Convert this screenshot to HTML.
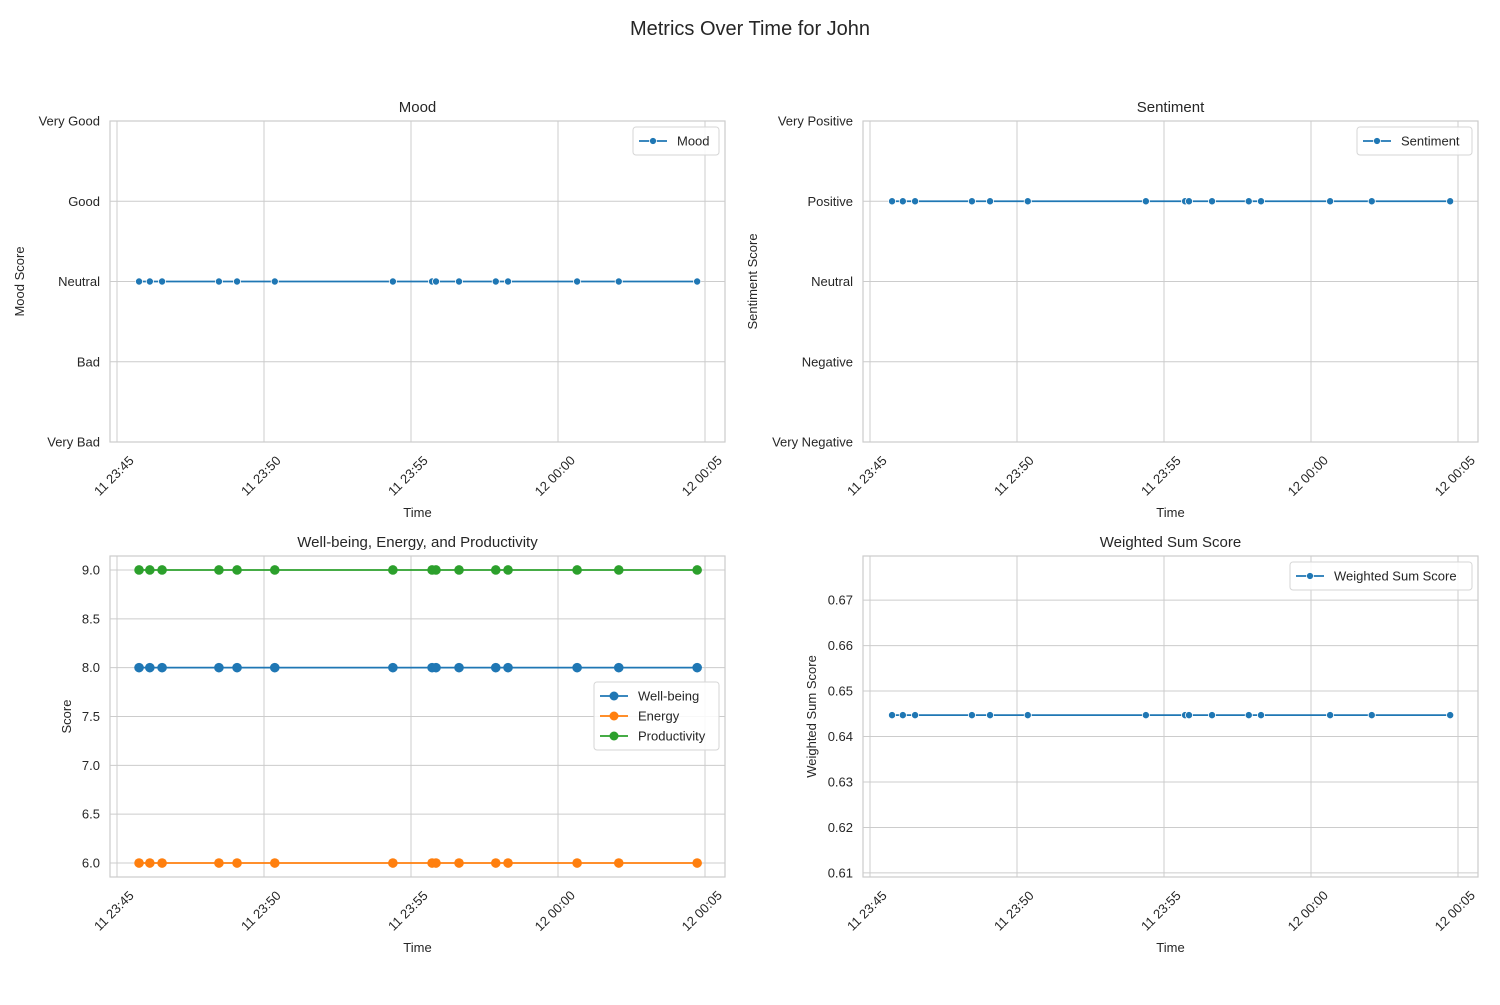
<!DOCTYPE html>
<html><head><meta charset="utf-8"><style>
body{margin:0;background:#fff;font-family:"Liberation Sans",Arial,sans-serif;}
svg text{font-family:"Liberation Sans",Arial,sans-serif;fill:#262626;}
</style></head><body>
<svg id="fig" width="1500" height="1000" xmlns="http://www.w3.org/2000/svg">
<text x="750" y="35" font-size="20" text-anchor="middle">Metrics Over Time for John</text>
</svg>
<script>
// seconds after 11 23:45:00
const times = [45,67,92,208,245,322,563,643,651,698,773,798,939,1024,1184];
const moodValues = [2,2,2,2,2,2,2,2,2,2,2,2,2,2,2];
const sentimentValues = [4,4,4,4,4,4,4,4,4,4,4,4,4,4,4];
const wellbeingValues = [8,8,8,8,8,8,8,8,8,8,8,8,8,8,8];
const energyValues = [6,6,6,6,6,6,6,6,6,6,6,6,6,6,6];
const productivityValues = [9,9,9,9,9,9,9,9,9,9,9,9,9,9,9];
const weightedValues = [0.6447,0.6447,0.6447,0.6447,0.6447,0.6447,0.6447,0.6447,0.6447,0.6447,0.6447,0.6447,0.6447,0.6447,0.6447];
const xTickSeconds = [0,300,600,900,1200];
const xTickLabels = ["11 23:45","11 23:50","11 23:55","12 00:00","12 00:05"];
const moodLabels = ["Very Bad","Bad","Neutral","Good","Very Good"];
const sentimentLabels = ["Very Negative","Negative","Neutral","Positive","Very Positive"];
const scoreTicks = [6.0,6.5,7.0,7.5,8.0,8.5,9.0];
const weightedTicks = [0.61,0.62,0.63,0.64,0.65,0.66,0.67];

const svg=document.getElementById('fig');
const NS='http://www.w3.org/2000/svg';
function mk(tag,attrs,parent){const e=document.createElementNS(NS,tag);for(const k in attrs)e.setAttribute(k,attrs[k]);(parent||svg).appendChild(e);return e;}

function panel(o){
  const g=mk('g',{});
  
  
  const L=o.x0,R=o.x0+615,T=o.y0,B=o.y0+321;
  const xs=s=>L+7+s*147/300;
  const ys=v=>B-(v-o.ymin)/(o.ymax-o.ymin)*(B-T);
  xTickSeconds.forEach((s,i)=>{
    const l=mk('line',{x1:xs(s),x2:xs(s),y1:T,y2:B,stroke:'#cccccc','stroke-width':1},g);
    
    
    const t=mk('text',{x:0,y:0,'font-size':13,'text-anchor':'middle',transform:`translate(${xs(s)},${B+37}) rotate(-45)`},g);
    
    
    t.textContent=xTickLabels[i];
  });
  o.yticks.forEach((v,i)=>{
    const l=mk('line',{x1:L,x2:R,y1:ys(v),y2:ys(v),stroke:'#cccccc','stroke-width':1},g);
    
    
    const t=mk('text',{x:L-10,y:ys(v)+4.5,'font-size':13,'text-anchor':'end'},g);
    
    
    t.textContent=o.ylabels[i];
  });
  const fr=mk('rect',{x:L,y:T,width:615,height:321,fill:'none',stroke:'#cccccc','stroke-width':1.2},g);
  
  
  const tt=mk('text',{x:(L+R)/2,y:T-9,'font-size':15,'text-anchor':'middle'},g);
  
  
  tt.textContent=o.title;
  const xl=mk('text',{x:(L+R)/2,y:B+75,'font-size':13,'text-anchor':'middle'},g);
  
  
  xl.textContent='Time';
  const yl=mk('text',{x:0,y:0,'font-size':13,'text-anchor':'middle',transform:`translate(${o.ylx},${(T+B)/2}) rotate(-90)`},g);
  
  
  yl.textContent=o.ytitle;
  o.series.forEach(se=>{
    const pts=times.map((s,i)=>xs(s)+','+ys(se.vals[i])).join(' ');
    const pl=mk('polyline',{points:pts,fill:'none',stroke:se.color,'stroke-width':1.8},g);
    
    
    times.forEach((s,i)=>{
      const c=mk('circle',{cx:xs(s),cy:ys(se.vals[i]),r:o.big?4.8:3.6,fill:se.color,stroke:o.big?'none':'#fff','stroke-width':0.8},g);
      
      
    });
  });
  const lw=o.legW,lh=o.series.length*20+8,lx=R-6-lw,ly=T+6;
  const lg=mk('g',{},g);
  
  
  const lr=mk('rect',{x:lx,y:ly+o.legDy,width:lw,height:lh,rx:3,fill:'#fff','fill-opacity':0.85,stroke:'#d6d6d6'},lg);
  
  
  o.series.forEach((se,i)=>{
    const yy=ly+o.legDy+14+i*20;
    const ll=mk('line',{x1:lx+6,x2:lx+34,y1:yy,y2:yy,stroke:se.color,'stroke-width':1.8},lg);
    
    
    const lc=mk('circle',{cx:lx+20,cy:yy,r:o.big?4.5:3.5,fill:se.color,stroke:o.big?'none':'#fff','stroke-width':0.8},lg);
    
    
    const lt=mk('text',{x:lx+44,y:yy+4.5,'font-size':13},lg);
    
    
    lt.textContent=se.label;
  });
}
const blue='#1f77b4',orange='#ff7f0e',green='#2ca02c';
panel({name:'mood-panel',x0:110,y0:121,ymin:0,ymax:4,yticks:[0,1,2,3,4],ylabels:moodLabels,title:'Mood',ytitle:'Mood Score',ylx:24,legW:86,legDy:0,
  series:[{key:'mood',label:'Mood',color:blue,vals:moodValues}]});
panel({name:'sentiment-panel',x0:863,y0:121,ymin:1,ymax:5,yticks:[1,2,3,4,5],ylabels:sentimentLabels,title:'Sentiment',ytitle:'Sentiment Score',ylx:757,legW:115,legDy:0,
  series:[{key:'sentiment',label:'Sentiment',color:blue,vals:sentimentValues}]});
panel({name:'scores-panel',x0:110,y0:556,ymin:5.857,ymax:9.143,yticks:scoreTicks,ylabels:scoreTicks.map(v=>v.toFixed(1)),title:'Well-being, Energy, and Productivity',ytitle:'Score',ylx:71,legW:125,legDy:120,big:true,
  series:[{key:'wellbeing',label:'Well-being',color:blue,vals:wellbeingValues},{key:'energy',label:'Energy',color:orange,vals:energyValues},{key:'productivity',label:'Productivity',color:green,vals:productivityValues}]});
panel({name:'weighted-panel',x0:863,y0:556,ymin:0.6091,ymax:0.6797,yticks:weightedTicks,ylabels:weightedTicks.map(v=>v.toFixed(2)),title:'Weighted Sum Score',ytitle:'Weighted Sum Score',ylx:816,legW:182,legDy:0,
  series:[{key:'weighted',label:'Weighted Sum Score',color:blue,vals:weightedValues}]});
</script>
</body></html>
